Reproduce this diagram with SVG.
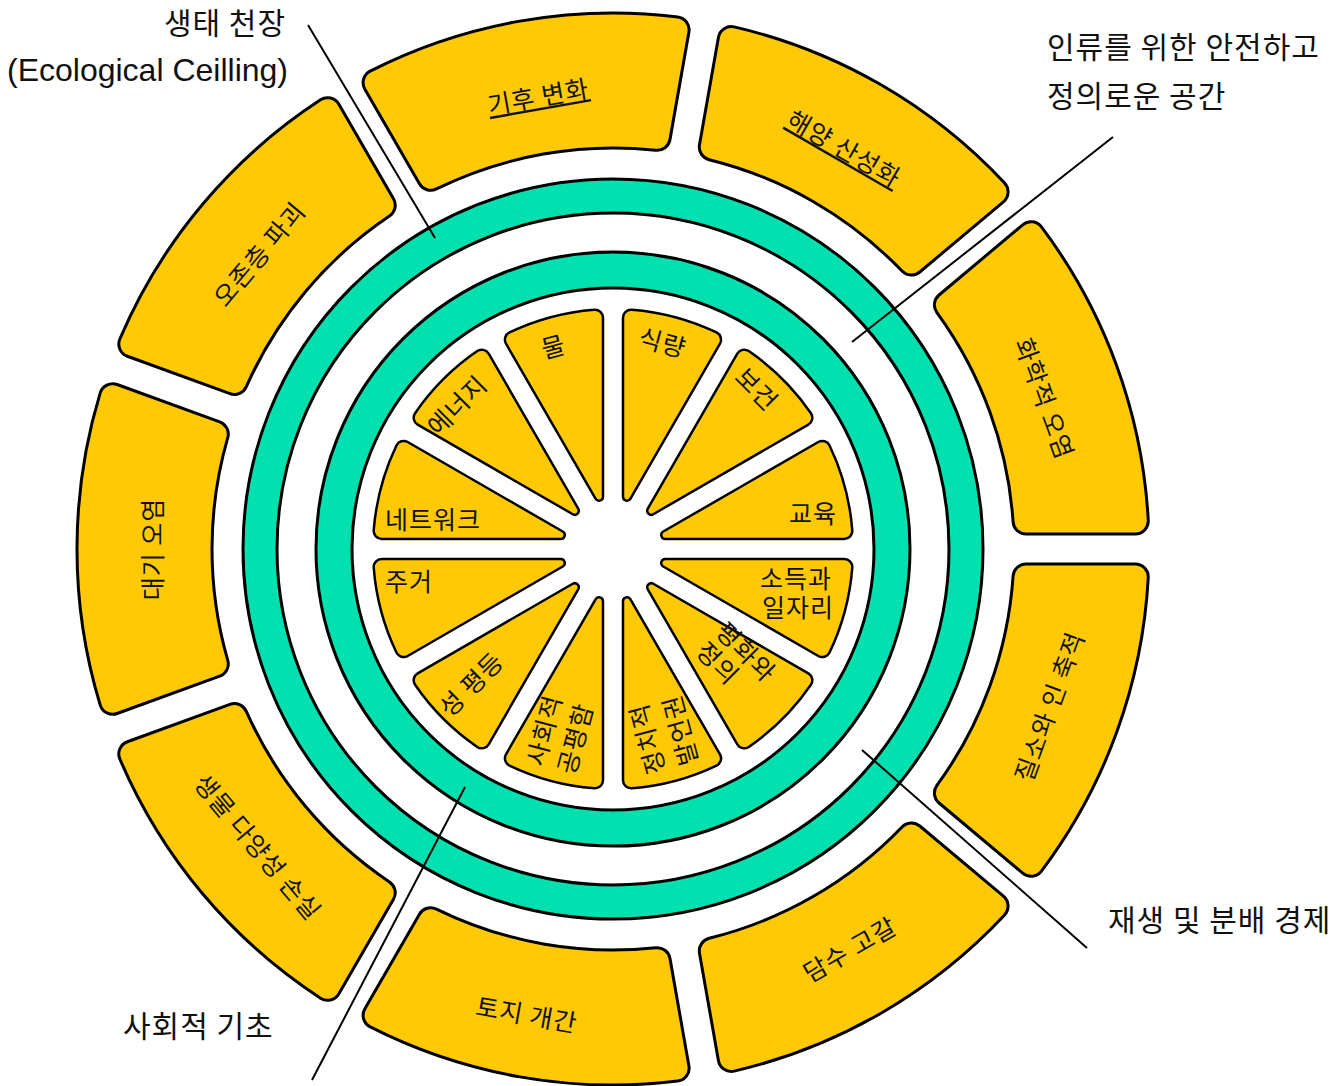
<svg xmlns="http://www.w3.org/2000/svg" xmlns:xlink="http://www.w3.org/1999/xlink" width="1342" height="1086" viewBox="0 0 1342 1086">
<style>
.seg{fill:#FFCA05;stroke:#000;stroke-width:3}
.wed{fill:#FFCA05;stroke:#000;stroke-width:2.5}
.ring{fill:#02E0AF;stroke:#000;stroke-width:3;fill-rule:evenodd}
.t{font-family:"Noto Sans CJK KR","Noto Sans",sans-serif;fill:#111}
.s24{font-size:25px;letter-spacing:1px}
.s28{font-size:30px;letter-spacing:1px}
.c{text-anchor:middle;dominant-baseline:central}
.e{text-anchor:end}
.u{text-decoration:underline}
.lead{stroke:#000;stroke-width:2;fill:none}
</style>
<defs>
<path id="sg" d="M-127.18,-393.27 L-164.52,-495.88 A13,13 0 0 1 -156.10,-512.77 A536,536 0 0 1 156.10,-512.77 A13,13 0 0 1 164.52,-495.88 L127.18,-393.27 A13,13 0 0 1 111.35,-385.23 A401,401 0 0 0 -111.35,-385.23 A13,13 0 0 1 -127.18,-393.27Z"/>
<path id="wd" d="M-3.864,-53.06 L-50.206,-226.01 A8,8 0 0 1 -43.943,-235.95 A240,240 0 0 1 43.943,-235.95 A8,8 0 0 1 50.206,-226.01 L3.864,-53.06 A4,4 0 0 1 -3.864,-53.06Z"/>
</defs>
<rect width="1342" height="1086" fill="#fff"/>

<g id="ecological-ceiling-ring">
<path class="ring" d="M243,549 a370,370 0 1,0 740,0 a370,370 0 1,0 -740,0Z M277,549 a336,336 0 1,0 672,0 a336,336 0 1,0 -672,0Z"/>
</g>
<g id="social-foundation-ring">
<path class="ring" d="M316,549 a297,297 0 1,0 594,0 a297,297 0 1,0 -594,0Z M352,549 a261,261 0 1,0 522,0 a261,261 0 1,0 -522,0Z"/>
</g>

<g id="eco-climate"><use href="#sg" class="seg" transform="translate(613 549) rotate(350)"/><text class="t s24 c u" transform="translate(538 95) rotate(-10)">기후 변화</text></g>
<g id="eco-ocean"><use href="#sg" class="seg" transform="translate(613 549) rotate(30)"/><text class="t s24 c u" transform="translate(845 147) rotate(30)">해양 산성화</text></g>
<g id="eco-chemical"><use href="#sg" class="seg" transform="translate(613 549) rotate(70)"/><text class="t s24 c" transform="translate(1046 398) rotate(70)">화학적 오염</text></g>
<g id="eco-nitrogen"><use href="#sg" class="seg" transform="translate(613 549) rotate(110)"/><text class="t s24 c" transform="translate(1048 706) rotate(-70)">질소와 인 축적</text></g>
<g id="eco-freshwater"><use href="#sg" class="seg" transform="translate(613 549) rotate(150)"/><text class="t s24 c" transform="translate(849 948) rotate(-30)">담수 고갈</text></g>
<g id="eco-land"><use href="#sg" class="seg" transform="translate(613 549) rotate(190)"/><text class="t s24 c" transform="translate(527 1013) rotate(10)">토지 개간</text></g>
<g id="eco-biodiversity"><use href="#sg" class="seg" transform="translate(613 549) rotate(230)"/><text class="t s24 c" transform="translate(259 846) rotate(50)">생물 다양성 손실</text></g>
<g id="eco-air"><use href="#sg" class="seg" transform="translate(613 549) rotate(270)"/><text class="t s24 c" transform="translate(151 549) rotate(-90)">대기 오염</text></g>
<g id="eco-ozone"><use href="#sg" class="seg" transform="translate(613 549) rotate(310)"/><text class="t s24 c" transform="translate(258 253) rotate(-50)">오존층 파괴</text></g>

<g id="soc-water"><use href="#wd" class="wed" transform="translate(613 549) rotate(345)"/><text class="t s24 c" transform="translate(553 345) rotate(-15)">물</text></g>
<g id="soc-food"><use href="#wd" class="wed" transform="translate(613 549) rotate(15)"/><text class="t s24 c" transform="translate(663 341) rotate(15)">식량</text></g>
<g id="soc-health"><use href="#wd" class="wed" transform="translate(613 549) rotate(45)"/><text class="t s24 c" transform="translate(758 388) rotate(45)">보건</text></g>
<g id="soc-education"><use href="#wd" class="wed" transform="translate(613 549) rotate(75)"/><text class="t s24 e" x="837" y="523">교육</text></g>
<g id="soc-income"><use href="#wd" class="wed" transform="translate(613 549) rotate(105)"/><text class="t s24 e" x="832" y="588">소득과</text><text class="t s24 e" x="834" y="617">일자리</text></g>
<g id="soc-peace"><use href="#wd" class="wed" transform="translate(613 549) rotate(135)"/><g transform="translate(714 633) rotate(45)"><text class="t s24" x="0" y="0">평화와</text><text class="t s24" x="0" y="28">정의</text></g></g>
<g id="soc-voice"><use href="#wd" class="wed" transform="translate(613 549) rotate(165)"/><g transform="translate(662 735) rotate(-105)"><text class="t s24 c" x="0" y="-17">정치적</text><text class="t s24 c" x="0" y="17">발언권</text></g></g>
<g id="soc-equity"><use href="#wd" class="wed" transform="translate(613 549) rotate(195)"/><g transform="translate(558 734) rotate(-75)"><text class="t s24 c" x="0" y="-16">사회적</text><text class="t s24 c" x="0" y="16">공평함</text></g></g>
<g id="soc-gender"><use href="#wd" class="wed" transform="translate(613 549) rotate(225)"/><text class="t s24 c" transform="translate(470 683) rotate(-45)">성 평등</text></g>
<g id="soc-housing"><use href="#wd" class="wed" transform="translate(613 549) rotate(255)"/><text class="t s24" x="385" y="591">주거</text></g>
<g id="soc-networks"><use href="#wd" class="wed" transform="translate(613 549) rotate(285)"/><text class="t s24" x="385" y="529">네트워크</text></g>
<g id="soc-energy"><use href="#wd" class="wed" transform="translate(613 549) rotate(315)"/><text class="t s24 c" transform="translate(456 404) rotate(-45)">에너지</text></g>

<g id="connectors">
<line class="lead" x1="308" y1="25" x2="435" y2="238"/>
<line class="lead" x1="1113" y1="137" x2="852" y2="342"/>
<line class="lead" x1="862" y1="750" x2="1087" y2="948"/>
<line class="lead" x1="465" y1="787" x2="312" y2="1080"/>
</g>

<g id="label-ceiling">
<text class="t s28 e" x="286" y="34">생태 천장</text>
<text class="t" x="7" y="81" style="font-family:'Liberation Sans','Noto Sans CJK KR',sans-serif;font-size:32px">(Ecological Ceilling)</text>
</g>
<g id="label-safe-space">
<text class="t s28" x="1047" y="58">인류를 위한 안전하고</text>
<text class="t s28" x="1047" y="107">정의로운 공간</text>
</g>
<g id="label-economy"><text class="t s28" x="1108" y="931">재생 및 분배 경제</text></g>
<g id="label-foundation"><text class="t s28" x="123" y="1037">사회적 기초</text></g>
</svg>
